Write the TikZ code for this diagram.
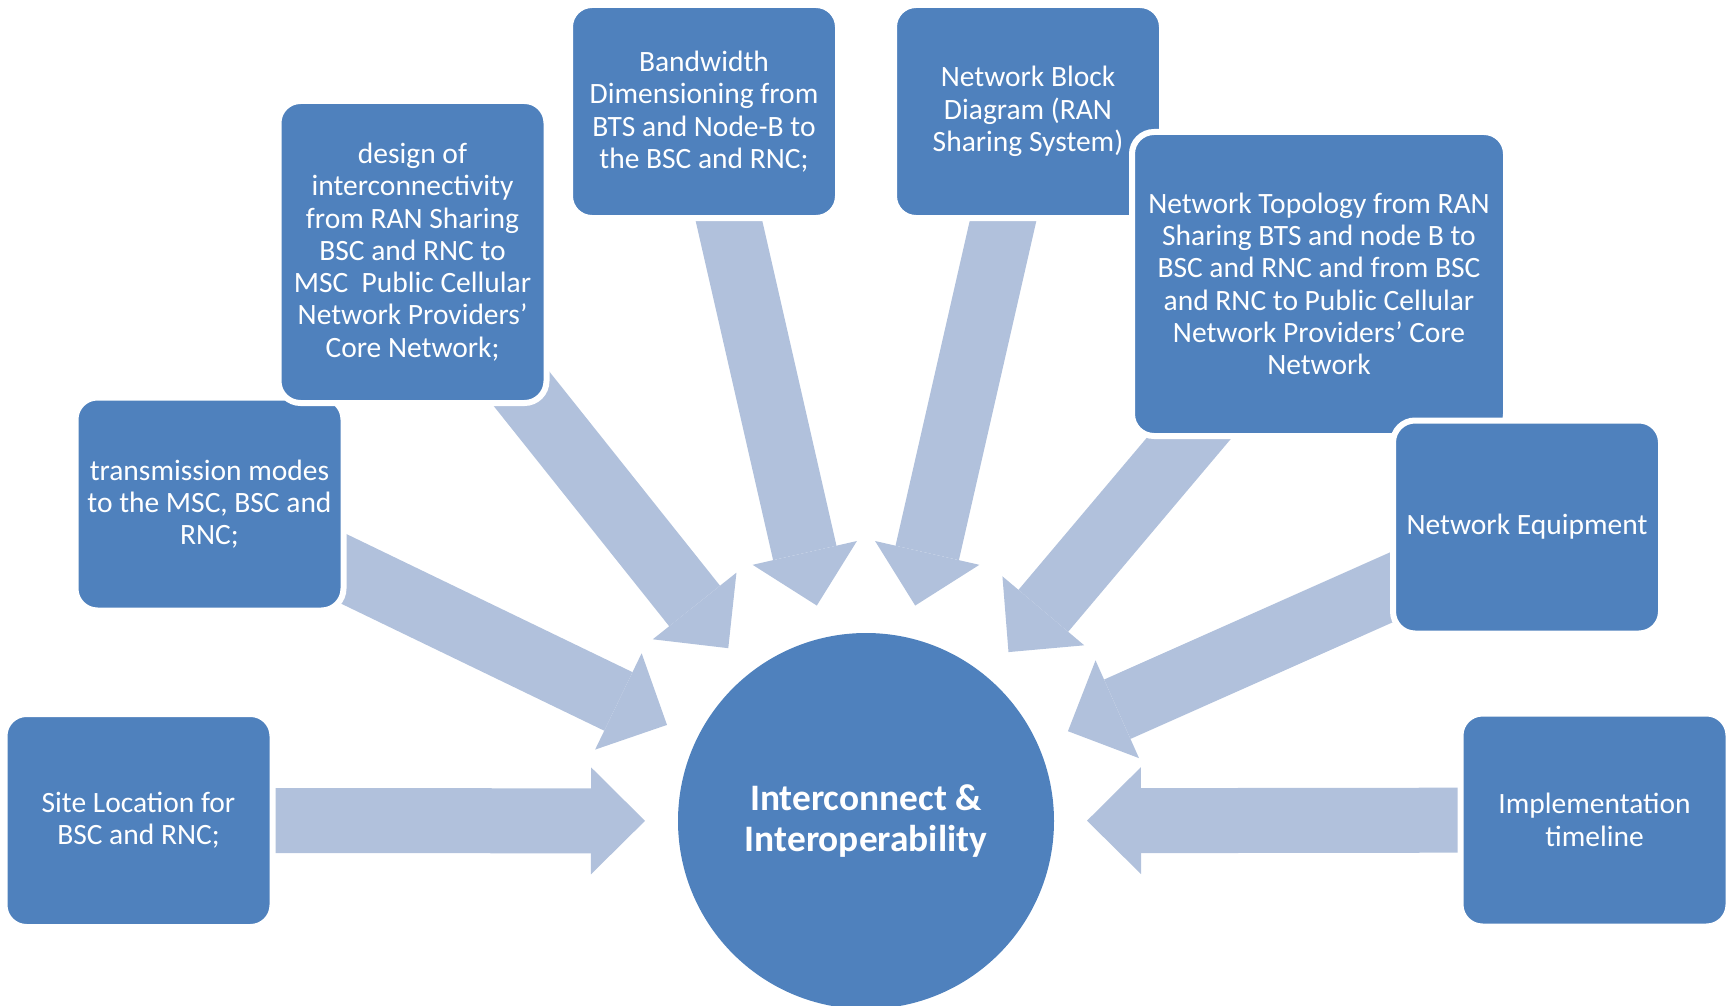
\documentclass[tikz,border=0pt]{standalone}
\usepackage{fontspec}
\setmainfont{Carlito}
\usetikzlibrary{arrows.meta}
\definecolor{boxblue}{RGB}{79,129,189}
\definecolor{arrowblue}{RGB}{177,193,220}
\pgfdeclarelayer{bg}
\pgfsetlayers{bg,main}
\begin{document}
\begin{tikzpicture}[x=1pt,y=-1pt,
  box/.style={rounded corners=22pt, fill=boxblue, draw=white, line width=6pt,
    text=white, align=center, inner sep=0pt,
    minimum width=268pt, minimum height=213pt,
    font=\fontsize{29.5}{32.3}\selectfont},
  hubstyle/.style={circle, fill=boxblue, minimum size=376pt, inner sep=0pt,
    text=white, align=center, font=\fontsize{37.4}{40.7}\selectfont\bfseries},
  blockarrow/.style={draw=arrowblue, line width=65pt,
    -{Triangle[length=54pt,width=107pt,line width=0pt]}, shorten >=221pt}]
\useasboundingbox (0,0) rectangle (1727,1006);

\node[box] (site) at (138.5,820.5) {Site Location for\\BSC and RNC;};
\node[box] (trans) at (209.5,504) {transmission modes\\to the MSC, BSC and\\RNC;};
\node[box, minimum height=302pt] (design) at (412.5,252) {design of\\interconnectivity\\from RAN Sharing\\BSC and RNC to\\MSC\ \ Public Cellular\\Network Providers’\\Core Network;};
\node[box] (bw) at (704,111.5) {Bandwidth\\Dimensioning from\\BTS and Node-B to\\the BSC and RNC;};
\node[box] (block) at (1028,111.5) {Network Block\\Diagram (RAN\\Sharing System)};
\node[box, minimum width=374pt, minimum height=304pt] (topo) at (1319,284) {Network Topology from RAN\\Sharing BTS and node B to\\BSC and RNC and from BSC\\and RNC to Public Cellular\\Network Providers’ Core\\Network};
\node[box] (equip) at (1527,527) {Network Equipment};
\node[box] (impl) at (1594.5,820) {Implementation\\timeline};

\node[hubstyle] (hub) at (866,821) {Interconnect \&\\Interoperability};

\begin{pgfonlayer}{bg}
\foreach \b in {site,trans,design,bw,block,topo,equip,impl}
  \draw[blockarrow] (\b.center) -- (hub.center);
\end{pgfonlayer}
\end{tikzpicture}
\end{document}
